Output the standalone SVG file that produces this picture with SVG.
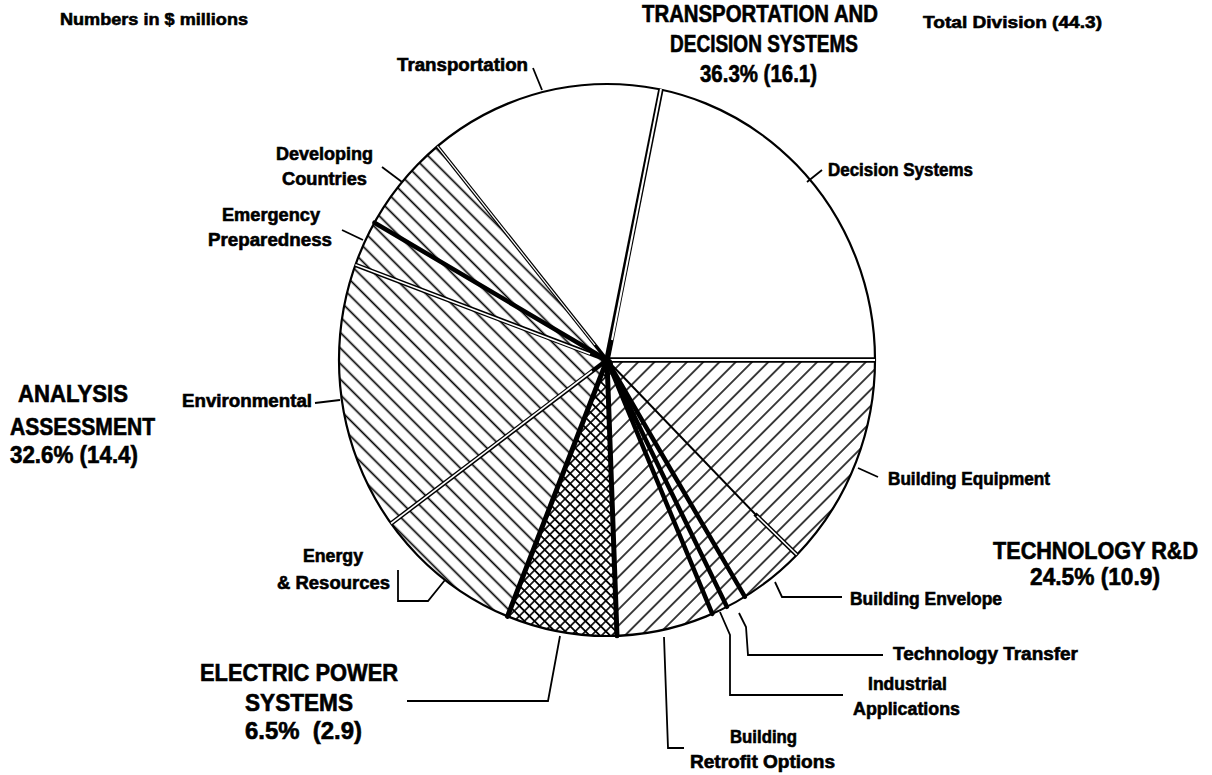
<svg xmlns="http://www.w3.org/2000/svg" width="1212" height="775" viewBox="0 0 1212 775">
  <style>
    .lbl { font-family: "Liberation Sans", Arial, sans-serif; font-weight: bold; font-size: 18px; fill: #000; stroke: #000; stroke-width: 0.6; }
    .big { font-size: 23px; }
    .note { font-size: 17px; }
    .rim { fill: none; stroke: #000; stroke-width: 2.2; }
    .thick { stroke: #000; stroke-width: 4.5; stroke-linecap: round; }
    .dbl-b { stroke: #000; stroke-width: 4.5; }
    .dbl-w { stroke: #fff; stroke-width: 1.6; }
    .leader { fill: none; stroke: #000; stroke-width: 1.8; }
    .white { fill: #fff; }
    .back { fill: url(#hatchBack); }
    .fwd { fill: url(#hatchFwd); }
    .cross { fill: url(#crossHatch); }
  </style>
  <defs>
    <!-- "\" hatching for the analysis slices -->
    <pattern id="hatchBack" patternUnits="userSpaceOnUse" width="11" height="11" patternTransform="rotate(45)">
      <rect width="11" height="11" fill="#fff"/>
      <path d="M0 5.5H11" stroke="#000" stroke-width="1.7"/>
    </pattern>
    <!-- "/" hatching for the technology slices -->
    <pattern id="hatchFwd" patternUnits="userSpaceOnUse" width="11.5" height="11.5" patternTransform="rotate(-45)">
      <rect width="11.5" height="11.5" fill="#fff"/>
      <path d="M0 5.75H11.5" stroke="#000" stroke-width="1.5"/>
    </pattern>
    <!-- diamond cross-hatching for electric power -->
    <pattern id="crossHatch" patternUnits="userSpaceOnUse" width="7.2" height="7.2" patternTransform="rotate(45)">
      <rect width="7.2" height="7.2" fill="#fff"/>
      <path d="M0 3.6H7.2M3.6 0V7.2" stroke="#000" stroke-width="1.6"/>
    </pattern>
  </defs>

  <rect width="1212" height="775" fill="#fff"/>

  <!-- header texts -->
  <text class="lbl note" x="60" y="25" textLength="188" lengthAdjust="spacingAndGlyphs">Numbers in $ millions</text>
  <text class="lbl note" x="923" y="28" textLength="179" lengthAdjust="spacingAndGlyphs">Total Division (44.3)</text>

  <!-- pie slices, clockwise from the right -->
  <g id="slice-building-equipment">
    <path class="fwd" d="M607 360L875 360A268 276 0 0 1 796.8 554.8Z"/>
    <text class="lbl" x="888" y="485" textLength="162" lengthAdjust="spacingAndGlyphs">Building Equipment</text>
  </g>
  <g id="slice-building-envelope">
    <path class="fwd" d="M607 360L796.8 554.8A268 276 0 0 1 744.8 596.7Z"/>
    <text class="lbl" x="850" y="605" textLength="152" lengthAdjust="spacingAndGlyphs">Building Envelope</text>
  </g>
  <g id="slice-technology-transfer">
    <path class="fwd" d="M607 360L744.8 596.7A268 276 0 0 1 726.9 606.8Z"/>
    <text class="lbl" x="893" y="660" textLength="185" lengthAdjust="spacingAndGlyphs">Technology Transfer</text>
  </g>
  <g id="slice-industrial-applications">
    <path class="fwd" d="M607 360L726.9 606.8A268 276 0 0 1 712.3 613.8Z"/>
    <text class="lbl" x="868" y="690" textLength="79" lengthAdjust="spacingAndGlyphs">Industrial</text>
    <text class="lbl" x="853" y="715" textLength="107" lengthAdjust="spacingAndGlyphs">Applications</text>
  </g>
  <g id="slice-building-retrofit">
    <path class="fwd" d="M607 360L712.3 613.8A268 276 0 0 1 617 635.8Z"/>
    <text class="lbl" x="730" y="743" textLength="67" lengthAdjust="spacingAndGlyphs">Building</text>
    <text class="lbl" x="690" y="768" textLength="145" lengthAdjust="spacingAndGlyphs">Retrofit Options</text>
  </g>
  <g id="slice-electric-power">
    <path class="cross" d="M607 360L617 635.8A268 276 0 0 1 507.5 616.3Z"/>
    <text class="lbl big" x="200" y="681" textLength="198" lengthAdjust="spacingAndGlyphs">ELECTRIC POWER</text>
    <text class="lbl big" x="245" y="711" textLength="108" lengthAdjust="spacingAndGlyphs">SYSTEMS</text>
    <text class="lbl big" x="245" y="739" textLength="117" lengthAdjust="spacingAndGlyphs" style="white-space:pre">6.5%  (2.9)</text>
  </g>
  <g id="slice-energy-resources">
    <path class="back" d="M607 360L507.5 616.3A268 276 0 0 1 391.1 523.5Z"/>
    <text class="lbl" x="303" y="562" textLength="60" lengthAdjust="spacingAndGlyphs">Energy</text>
    <text class="lbl" x="277" y="589" textLength="113" lengthAdjust="spacingAndGlyphs">&amp; Resources</text>
  </g>
  <g id="slice-environmental">
    <path class="back" d="M607 360L391.1 523.5A268 276 0 0 1 355.4 264.8Z"/>
    <text class="lbl" x="182" y="407" textLength="130" lengthAdjust="spacingAndGlyphs">Environmental</text>
  </g>
  <g id="slice-emergency-preparedness">
    <path class="back" d="M607 360L355.4 264.8A268 276 0 0 1 374.5 222.7Z"/>
    <text class="lbl" x="222" y="221" textLength="98" lengthAdjust="spacingAndGlyphs">Emergency</text>
    <text class="lbl" x="208" y="246" textLength="124" lengthAdjust="spacingAndGlyphs">Preparedness</text>
  </g>
  <g id="slice-developing-countries">
    <path class="back" d="M607 360L374.5 222.7A268 276 0 0 1 437.4 146.3Z"/>
    <text class="lbl" x="276" y="160" textLength="97" lengthAdjust="spacingAndGlyphs">Developing</text>
    <text class="lbl" x="282" y="185" textLength="85" lengthAdjust="spacingAndGlyphs">Countries</text>
  </g>
  <g id="slice-transportation">
    <path class="white" d="M607 360L437.4 146.3A268 276 0 0 1 660.7 89.6Z"/>
    <text class="lbl" x="397" y="71" textLength="131" lengthAdjust="spacingAndGlyphs">Transportation</text>
  </g>
  <g id="slice-decision-systems">
    <path class="white" d="M607 360L660.7 89.6A268 276 0 0 1 875 360Z"/>
    <text class="lbl" x="828" y="176" textLength="145" lengthAdjust="spacingAndGlyphs">Decision Systems</text>
  </g>

  <!-- slice borders -->
  <g id="borders">
    <ellipse class="rim" cx="607" cy="360" rx="268" ry="276"/>
    <!-- double borders -->
    <path class="dbl-b" style="stroke-width:5.5" d="M607 360L661 89"/>
    <path class="dbl-w" style="stroke-width:2" d="M612 340L661 89"/>
    <path class="dbl-b" style="stroke-width:3.6" d="M607 360L437.4 146.3"/>
    <path class="dbl-w" style="stroke-width:1.2" d="M595 345L437.4 146.3"/>
    <path class="dbl-b" d="M607 360L355.4 264.8"/>
    <path class="dbl-w" d="M590 354L355.4 264.8"/>
    <path class="dbl-b" d="M607 360L391.1 523.5"/>
    <path class="dbl-w" d="M592 371L391.1 523.5"/>
    <path stroke="#000" stroke-width="2" d="M607 360L757 516"/>
    <path class="dbl-b" d="M755 514L796.8 554.8"/>
    <path class="dbl-w" d="M757 516L796.8 554.8"/>
    <path class="dbl-b" style="stroke-width:5.5" d="M607 360L875 360"/>
    <path class="dbl-w" style="stroke-width:2.2" d="M609 360L875 360"/>
    <!-- heavy borders -->
    <path class="thick" d="M607 360L374.5 222.7"/>
    <path class="thick" style="stroke-width:5" d="M607 360L507.5 616.3"/>
    <path class="thick" style="stroke-width:5" d="M607 360L617 635.8"/>
    <path class="thick" d="M607 360L712.3 613.8"/>
    <path class="thick" d="M607 360L726.9 606.8"/>
    <path class="thick" d="M607 360L744.8 596.7"/>
    <circle cx="607" cy="364" r="6" fill="#000"/>
  </g>

  <!-- group titles -->
  <g id="group-transportation-decision">
    <text class="lbl big" x="642" y="22" textLength="236" lengthAdjust="spacingAndGlyphs">TRANSPORTATION AND</text>
    <text class="lbl big" x="670" y="52" textLength="188" lengthAdjust="spacingAndGlyphs">DECISION SYSTEMS</text>
    <text class="lbl big" x="700" y="82" textLength="117" lengthAdjust="spacingAndGlyphs">36.3% (16.1)</text>
  </g>
  <g id="group-analysis-assessment">
    <text class="lbl big" x="18" y="402" textLength="110" lengthAdjust="spacingAndGlyphs">ANALYSIS</text>
    <text class="lbl big" x="10" y="435" textLength="145" lengthAdjust="spacingAndGlyphs">ASSESSMENT</text>
    <text class="lbl big" x="10" y="463" textLength="128" lengthAdjust="spacingAndGlyphs">32.6% (14.4)</text>
  </g>
  <g id="group-technology">
    <text class="lbl big" x="993" y="559" textLength="205" lengthAdjust="spacingAndGlyphs">TECHNOLOGY R&amp;D</text>
    <text class="lbl big" x="1030" y="585" textLength="130" lengthAdjust="spacingAndGlyphs">24.5% (10.9)</text>
  </g>

  <!-- leader lines -->
  <g id="connectors">
    <path class="leader" d="M533 68L542 90"/>
    <path class="leader" d="M822 170L807 182"/>
    <path class="leader" d="M382 167L402 182"/>
    <path class="leader" d="M342 230L363 240"/>
    <path class="leader" d="M315 403L340 400"/>
    <path class="leader" d="M398 570V601H428L445 580"/>
    <path class="leader" d="M407 701H548L560 636"/>
    <path class="leader" d="M664 637L668 748H684"/>
    <path class="leader" d="M720 612L730 635V695H843"/>
    <path class="leader" d="M739 613L746 627L748 655H883"/>
    <path class="leader" d="M775 582L782 597H842"/>
    <path class="leader" d="M858 468L878 477"/>
  </g>
</svg>
